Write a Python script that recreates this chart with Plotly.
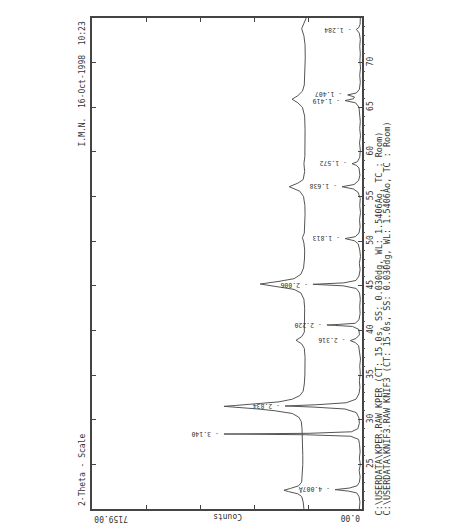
import plotly.graph_objects as go

# 2-theta (deg) and counts for the two scans
kper_two_theta = [20.0, 20.8, 21.4, 21.7, 21.95, 22.1, 22.3, 22.6, 23.0, 24.0, 25.0, 26.0, 27.0, 28.0,
                  29.0, 29.8, 30.3, 30.7, 31.0, 31.2, 31.4, 31.5, 31.6, 31.8, 32.0, 32.3, 32.7, 33.2,
                  34.0, 35.0, 36.0, 37.0, 38.0, 38.5, 38.9, 39.3, 39.8, 40.6, 41.5, 42.5, 43.5, 44.2,
                  44.6, 44.9, 45.2, 45.5, 45.8, 46.3, 47.0, 48.0, 49.0, 49.8, 50.4, 50.9, 52.0, 53.0,
                  54.0, 55.0, 55.6, 56.1, 56.5, 56.9, 57.8, 58.7, 59.5, 61.0, 62.5, 64.0, 65.0, 65.5,
                  65.9, 66.3, 66.8, 67.5, 69.0, 70.5, 72.0, 73.0, 73.8, 74.4, 75.0]
kper_counts = [1540, 1560, 1600, 1700, 1950, 2070, 1900, 1680, 1600, 1575, 1570, 1570, 1575, 1580,
               1590, 1610, 1680, 1850, 2300, 2750, 3400, 3660, 3350, 2650, 2200, 1850, 1650, 1560,
               1530, 1515, 1510, 1510, 1530, 1600, 1750, 1600, 1530, 1530, 1515, 1520, 1540, 1620,
               1800, 2250, 2700, 2200, 1800, 1620, 1550, 1525, 1520, 1540, 1580, 1530, 1515, 1510,
               1515, 1550, 1650, 1930, 1700, 1560, 1520, 1540, 1515, 1510, 1510, 1520, 1580, 1700,
               1855, 1700, 1580, 1530, 1510, 1505, 1510, 1540, 1600, 1540, 1480]

knif3_two_theta = [20.0, 20.8, 21.4, 21.8, 22.0, 22.17, 22.35, 22.6, 23.0, 23.6, 24.3, 25.0, 25.7,
                   26.4, 27.2, 27.8, 28.15, 28.32, 28.4, 28.48, 28.65, 29.0, 29.6, 30.2, 30.8, 31.2,
                   31.42, 31.54, 31.68, 31.9, 32.3, 32.9, 33.6, 34.4, 35.2, 36.0, 36.8, 37.6, 38.3,
                   38.65, 38.86, 39.1, 39.5, 40.1, 40.45, 40.56, 40.61, 40.68, 40.8, 41.2, 41.9, 42.7,
                   43.5, 44.2, 44.7, 45.0, 45.17, 45.33, 45.6, 46.1, 46.8, 47.5, 48.3, 49.0, 49.7,
                   50.05, 50.29, 50.5, 50.9, 51.6, 52.4, 53.2, 54.0, 54.8, 55.5, 55.85, 56.1, 56.35,
                   56.8, 57.4, 58.2, 58.5, 58.68, 58.9, 59.4, 60.2, 61.0, 61.8, 62.6, 63.4, 64.2,
                   65.0, 65.5, 65.75, 65.95, 66.15, 66.39, 66.6, 67.0, 67.8, 68.6, 69.4, 70.2, 71.0,
                   71.8, 72.6, 73.3, 73.6, 73.73, 73.9, 74.3, 75.0]
knif3_counts = [70, 55, 80, 140, 350, 715, 330, 130, 70, 50, 75, 45, 70,
                50, 65, 90, 300, 1500, 3660, 1400, 280, 110, 70, 80, 150, 450,
                1300, 2040, 1200, 420, 160, 80, 55, 70, 45, 60, 40, 65, 90,
                180, 310, 160, 70, 80, 250, 700, 930, 600, 180, 80, 50, 60,
                45, 65, 150, 500, 1300, 480, 160, 80, 50, 70, 40, 60, 100,
                200, 450, 180, 80, 50, 65, 40, 60, 45, 110, 230, 530, 210,
                90, 55, 80, 150, 265, 120, 60, 45, 65, 40, 60, 45, 70,
                80, 170, 450, 230, 200, 380, 150, 70, 45, 60, 40, 55, 45,
                60, 45, 70, 110, 150, 90, 50, 45]

# d-spacing labels on the KNIF3 peaks
label_two_theta = [22.17, 28.4, 31.54, 38.86, 40.61, 45.17, 50.29, 56.1, 58.68, 65.75, 66.39, 73.73]
label_counts = [715, 3660, 2040, 310, 930, 1300, 450, 530, 265, 450, 380, 150]
label_text = ["- 4.007Å", "- 3.140", "- 2.834", "- 2.316", "- 2.220", "- 2.006",
              "- 1.813", "- 1.638", "- 1.572", "- 1.419", "- 1.407", "- 1.284"]
label_nudge = [0, 0, 0, 0, 0, 0, 0, 0, 0, -1, 1, 0]

theta_ticks = [25, 30, 35, 40, 45, 50, 55, 60, 65, 70]
theta_minor = [a for a in range(21, 75) if a % 5 != 0]
count_max = 7159.0
count_ticks = [count_max * k / 5 for k in range(1, 5)]

file_lines = [
    "C:\\USERDATA\\KPER.RAW KPER (CT: 15.0s, SS: 0.030dg, WL: 1.5406Ao, TC : Room)",
    "C:\\USERDATA\\KNIF3.RAW KNIF3 (CT: 15.0s, SS: 0.030dg, WL: 1.5406Ao, TC : Room)",
]

FONT = "DejaVu Sans Mono"
INK = "#333333"
LINE = "#555555"

# the page puts the figure 8px in from the window corner
PAGE = 8
W, H = 465 - 2 * PAGE, 531 - 2 * PAGE
# plot frame in window pixels
plot_l, plot_r, plot_t, plot_b = 92, 362, 16, 509

fig = go.Figure()
fig.add_trace(go.Scatter(x=kper_counts, y=kper_two_theta, mode="lines",
                         line=dict(color=LINE, width=1), hoverinfo="skip"))
fig.add_trace(go.Scatter(x=knif3_counts, y=knif3_two_theta, mode="lines",
                         line=dict(color=LINE, width=1), hoverinfo="skip"))
# carrier for the minor tick axis
fig.add_trace(go.Scatter(x=[0], y=[50], yaxis="y2", mode="markers",
                         marker=dict(opacity=0), hoverinfo="skip"))

# peak labels, upside down like the rotated printout
for tt, cc, txt, nd in zip(label_two_theta, label_counts, label_text, label_nudge):
    fig.add_annotation(x=cc, y=tt, text=txt, textangle=180, showarrow=False,
                       xanchor="right", yanchor="middle", xshift=-3, yshift=nd,
                       font=dict(family=FONT, size=6.5, color=INK))


def px(x):
    return (x - plot_l) / (plot_r - plot_l)


def py(y):
    return (plot_b - y) / (plot_b - plot_t)


side = dict(xref="paper", yref="paper", showarrow=False)
fig.add_annotation(x=px(82), y=py(18), text="I.M.N.  16-Oct-1998  10:23", textangle=-90,
                   xanchor="center", yanchor="top", font=dict(family=FONT, size=8, color=INK), **side)
fig.add_annotation(x=px(82), y=py(508), text="2-Theta - Scale", textangle=-90,
                   xanchor="center", yanchor="bottom", font=dict(family=FONT, size=8, color=INK), **side)
fig.add_annotation(x=px(92), y=py(518), text="%.2f" % count_max, textangle=180,
                   xanchor="left", yanchor="middle", font=dict(family=FONT, size=8, color=INK), **side)
fig.add_annotation(x=px(228), y=py(516), text="Counts", textangle=180,
                   xanchor="center", yanchor="middle", font=dict(family=FONT, size=8, color=INK), **side)
fig.add_annotation(x=px(362), y=py(517), text="0.00", textangle=180,
                   xanchor="right", yanchor="middle", font=dict(family=FONT, size=8, color=INK), **side)
for xpos, line in zip([378.5, 386.5], file_lines):
    fig.add_annotation(x=px(xpos), y=py(518), text=line, textangle=-90,
                       xanchor="center", yanchor="bottom", font=dict(family=FONT, size=8.5, color=INK), **side)

fig.update_layout(
    width=W, height=H,
    margin=dict(l=plot_l - PAGE, r=W + PAGE - plot_r, t=plot_t - PAGE, b=H + PAGE - plot_b),
    paper_bgcolor="white", plot_bgcolor="white",
    showlegend=False,
    xaxis=dict(range=[count_max, 0], showgrid=False, zeroline=False,
               showline=True, linecolor="#444444", linewidth=1.5, mirror="ticks",
               ticks="inside", ticklen=4, tickcolor="#444444", tickvals=count_ticks,
               showticklabels=False),
    yaxis=dict(range=[20, 75], side="right", showgrid=False, zeroline=False,
               showline=True, linecolor="#444444", linewidth=1.5, mirror="ticks",
               ticks="inside", ticklen=4, tickcolor="#444444",
               tickvals=theta_ticks, ticktext=[str(t) for t in theta_ticks],
               tickangle=-90, tickfont=dict(family=FONT, size=8, color=INK)),
    yaxis2=dict(range=[20, 75], overlaying="y", side="right", showgrid=False,
                zeroline=False, showline=False, ticks="outside", ticklen=2,
                tickcolor="#555555", tickvals=theta_minor, showticklabels=False),
)

fig.write_html("out.html")
